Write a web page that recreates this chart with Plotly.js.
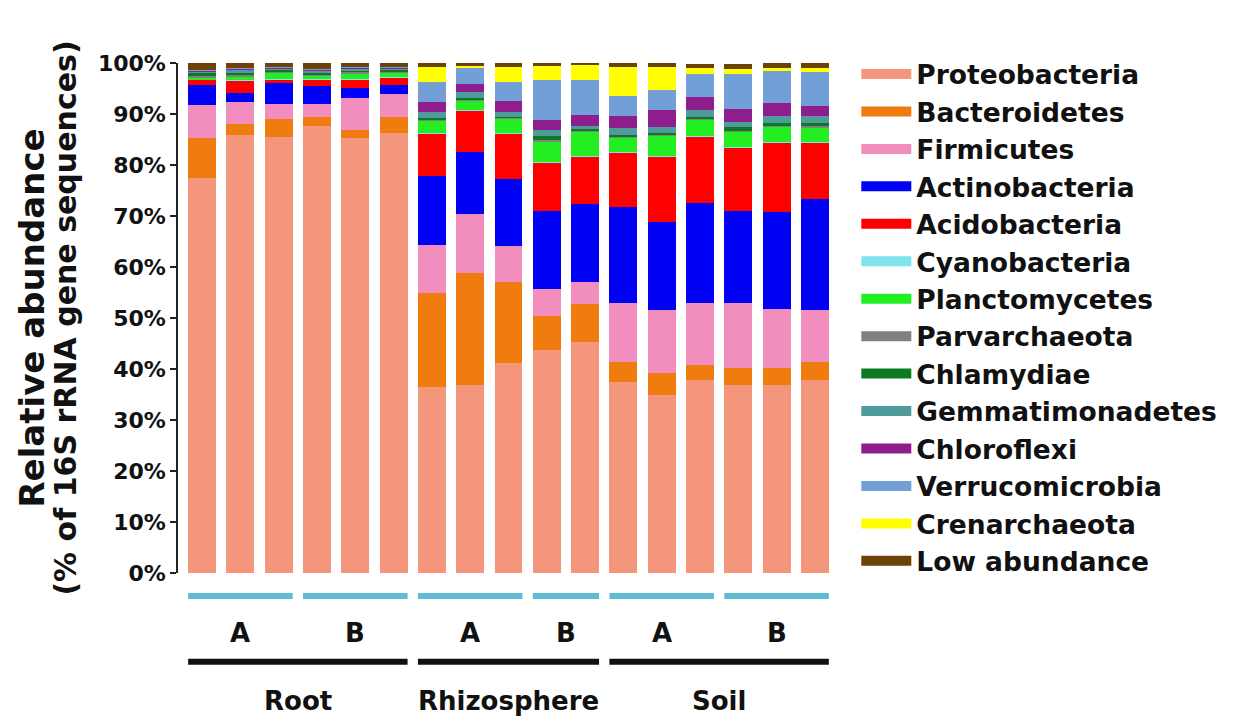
<!DOCTYPE html>
<html>
<head>
<meta charset="utf-8">
<script src="https://cdn.plot.ly/plotly-3.0.1.min.js"></script>
<style>
  html, body { margin: 0; padding: 0; background: #ffffff; }
  #chart { width: 1245px; height: 721px; }
</style>
</head>
<body>
<div id="chart"></div>
<script>
// ---- Data (relative abundance, %) ----
const samples = ['Root A1','Root A2','Root A3','Root B1','Root B2','Root B3',
                 'Rhizosphere A1','Rhizosphere A2','Rhizosphere A3','Rhizosphere B1','Rhizosphere B2',
                 'Soil A1','Soil A2','Soil A3','Soil B1','Soil B2','Soil B3'];

const phyla = ['Proteobacteria','Bacteroidetes','Firmicutes','Actinobacteria','Acidobacteria',
               'Cyanobacteria','Planctomycetes','Parvarchaeota','Chlamydiae','Gemmatimonadetes',
               'Chloroflexi','Verrucomicrobia','Crenarchaeota','Low abundance'];

const phylumColors = ['#F3967B','#F07B0E','#F28EBD','#0000F5','#FF0000',
                      '#80E4EE','#22EE22','#808080','#0C7A22','#4F9A9A',
                      '#8E1E8E','#729FD6','#FFFF00','#6B4306'];

const proteobacteria   = [77.5, 85.8, 85.5, 87.6, 85.2, 86.2, 36.5, 36.9, 41.1, 43.8, 45.2, 37.5, 35.0, 37.9, 36.9, 36.9, 37.9];
const bacteroidetes    = [ 7.7,  2.2,  3.5,  1.8,  1.6,  3.3, 18.5, 22.0, 15.9,  6.5,  7.5,  3.9,  4.3,  2.9,  3.3,  3.3,  3.4];
const firmicutes       = [ 6.6,  4.3,  3.0,  2.5,  6.3,  4.4,  9.4, 11.4,  7.1,  5.3,  4.3, 11.6, 12.2, 12.2, 12.8, 11.6, 10.2];
const actinobacteria   = [ 3.9,  1.9,  4.1,  3.6,  2.0,  1.8, 13.4, 12.2, 13.2, 15.3, 15.3, 18.7, 17.3, 19.6, 17.9, 18.9, 21.8];
const acidobacteria    = [ 1.0,  2.4,  0.7,  1.2,  1.6,  1.4,  8.3,  8.1,  8.8,  9.6,  9.4, 10.8, 12.8, 13.0, 12.6, 13.8, 11.1];
const cyanobacteria    = [ 0.1,  0.1,  0.1,  0.1,  0.1,  0.1,  0.1,  0.1,  0.1,  0.1,  0.1,  0.1,  0.1,  0.1,  0.1,  0.1,  0.1];
const planctomycetes   = [ 0.3,  0.5,  1.3,  0.6,  1.2,  1.0,  2.6,  2.0,  2.9,  4.1,  4.7,  2.8,  4.1,  3.3,  2.9,  2.9,  2.9];
const parvarchaeota    = [ 0.3,  0.6,  0.2,  0.4,  0.3,  0.2,  0.2,  0.2,  0.2,  0.3,  0.2,  0.2,  0.2,  0.2,  0.2,  0.2,  0.2];
const chlamydiae       = [ 0.8,  0.3,  0.3,  0.3,  0.2,  0.3,  0.2,  0.2,  0.2,  0.6,  0.3,  0.2,  0.2,  0.2,  0.8,  0.6,  0.6];
const gemmatimonadetes = [ 0.2,  0.6,  0.3,  0.5,  0.4,  0.2,  1.2,  1.2,  0.8,  1.2,  0.7,  1.4,  1.2,  1.4,  1.0,  1.4,  1.4];
const chloroflexi      = [ 0.2,  0.2,  0.2,  0.2,  0.2,  0.3,  2.0,  1.6,  2.2,  2.0,  2.2,  2.4,  3.3,  2.6,  2.4,  2.4,  2.0];
const verrucomicrobia  = [ 0.1,  0.1,  0.1,  0.1,  0.1,  0.1,  3.9,  3.2,  3.7,  7.9,  6.7,  3.9,  4.1,  4.5,  7.0,  6.3,  6.7];
const crenarchaeota    = [ 0.0,  0.0,  0.0,  0.0,  0.0,  0.0,  3.0,  0.3,  3.0,  2.7,  3.0,  5.7,  4.5,  1.2,  1.0,  0.7,  0.7];
const lowAbundance     = [ 1.3,  1.0,  0.7,  1.1,  0.8,  0.7,  0.7,  0.6,  0.8,  0.6,  0.4,  0.8,  0.7,  0.8,  0.9,  0.9,  1.0];

const series = [proteobacteria, bacteroidetes, firmicutes, actinobacteria, acidobacteria,
                cyanobacteria, planctomycetes, parvarchaeota, chlamydiae, gemmatimonadetes,
                chloroflexi, verrucomicrobia, crenarchaeota, lowAbundance];

// Sub-groups (first and last sample index) and main groups
const subGroups = [
  {label: 'A', first: 0,  last: 2},
  {label: 'B', first: 3,  last: 5},
  {label: 'A', first: 6,  last: 8},
  {label: 'B', first: 9,  last: 10},
  {label: 'A', first: 11, last: 13},
  {label: 'B', first: 14, last: 16}
];
const mainGroups = [
  {label: 'Root',        first: 0,  last: 5},
  {label: 'Rhizosphere', first: 6,  last: 10},
  {label: 'Soil',        first: 11, last: 16}
];

// ---- Styling ----
const FONT = 'DejaVu Sans, Liberation Sans, Arial, sans-serif';
const BAR_GAP = 0.27;
const HALF = (1 - BAR_GAP) / 2;

const traces = [];
phyla.forEach((name, k) => {
  traces.push({
    type: 'bar',
    name: name,
    x: samples,
    y: series[k],
    marker: {color: phylumColors[k], line: {width: 0}},
    showlegend: false,
    legendgroup: name,
    hovertemplate: '%{x}<br>' + name + ': %{y:.1f}%<extra></extra>'
  });
});
// legend entries (wide colour swatches)
phyla.forEach((name, k) => {
  traces.push({
    type: 'scatter',
    mode: 'lines',
    name: name,
    x: [null],
    y: [null],
    line: {color: phylumColors[k], width: 17},
    legendgroup: name,
    showlegend: true,
    hoverinfo: 'skip'
  });
});

const shapes = [];
const annotations = [];
subGroups.forEach(g => {
  shapes.push({
    type: 'line', xref: 'x', yref: 'paper',
    x0: g.first - HALF, x1: g.last + HALF, y0: -0.045, y1: -0.045,
    line: {color: '#5DBBD3', width: 6}
  });
  annotations.push({
    xref: 'x', yref: 'paper', x: (g.first + g.last) / 2, y: -0.118,
    text: '<b>' + g.label + '</b>', showarrow: false,
    font: {family: FONT, size: 26, color: '#111'}, yanchor: 'middle'
  });
});
mainGroups.forEach(g => {
  shapes.push({
    type: 'line', xref: 'x', yref: 'paper',
    x0: g.first - HALF, x1: g.last + HALF, y0: -0.174, y1: -0.174,
    line: {color: '#111111', width: 6}
  });
  annotations.push({
    xref: 'x', yref: 'paper', x: (g.first + g.last) / 2, y: -0.25,
    text: '<b>' + g.label + '</b>', showarrow: false,
    font: {family: FONT, size: 26, color: '#111'}, yanchor: 'middle'
  });
});

const layout = {
  width: 1245, height: 721,
  margin: {l: 178, r: 411, t: 63, b: 148},
  paper_bgcolor: '#ffffff', plot_bgcolor: '#ffffff',
  barmode: 'stack',
  bargap: BAR_GAP,
  font: {family: FONT, color: '#111'},
  xaxis: {
    type: 'category',
    range: [-0.63, 16.5],
    showticklabels: false, ticks: '', showline: false, showgrid: false, zeroline: false,
    fixedrange: true
  },
  yaxis: {
    range: [0, 100],
    dtick: 10, ticksuffix: '%',
    ticks: 'outside', ticklen: 6, tickwidth: 1.5, tickcolor: '#222',
    showline: true, linecolor: '#222', linewidth: 1.5,
    showgrid: false, zeroline: false,
    tickfont: {family: FONT, size: 22, color: '#111', weight: 'bold'},
    title: {
      text: '<span style="font-size:34px"><b>Relative abundance</b></span><br><span style="font-size:30px"><b>(% of 16S rRNA gene sequences)</b></span>',
      font: {family: FONT, size: 25, color: '#111'},
      standoff: 14
    },
    fixedrange: true
  },
  legend: {
    x: 1.034, xanchor: 'left',
    y: 1.025, yanchor: 'top',
    traceorder: 'normal',
    itemwidth: 50,
    maxheight: 700,
    font: {family: FONT, size: 26.5, color: '#111', weight: 'bold'},
    bgcolor: 'rgba(0,0,0,0)'
  },
  shapes: shapes,
  annotations: annotations
};

Plotly.newPlot('chart', traces, layout, {displayModeBar: false, responsive: false});
</script>
</body>
</html>
